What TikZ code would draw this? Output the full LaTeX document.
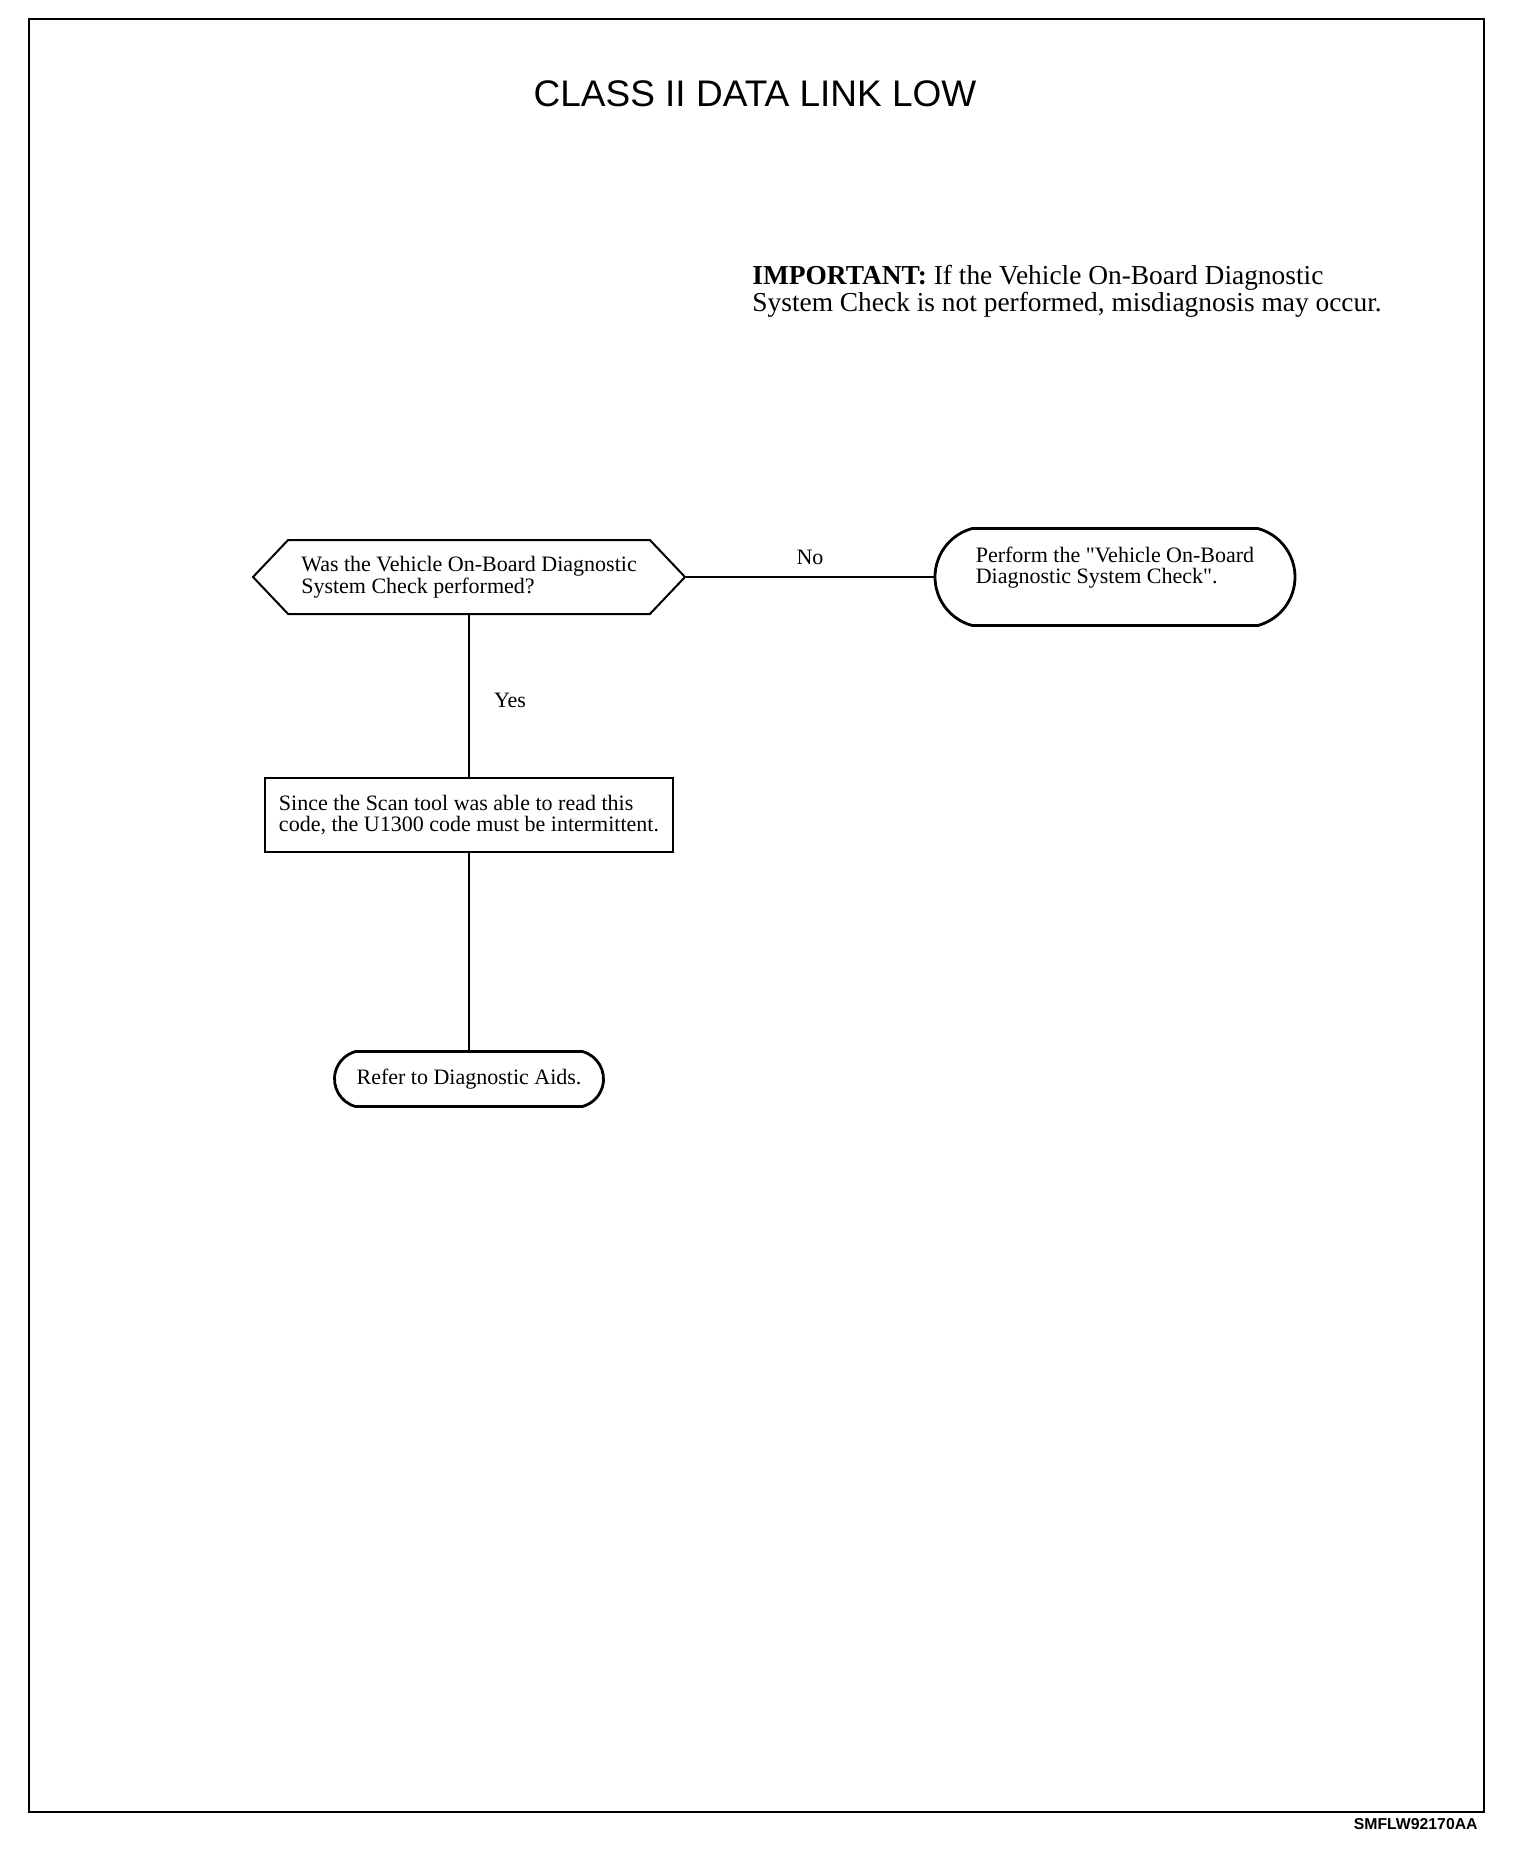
\documentclass[tikz,border=0pt]{standalone}
\usepackage{fontspec}
\setmainfont{Liberation Serif}
\newfontfamily\headfont{Liberation Sans}
\usetikzlibrary{shapes.symbols,shapes.misc}

\begin{document}
\begin{tikzpicture}[x=0.5pt,y=-0.5pt,
        % common styles
        question/.style={
            signal, signal to=west and east, signal pointer angle=93,
            draw, line width=1pt, inner sep=0pt,
            minimum width=216pt, minimum height=37pt,
            align=left, font=\fontsize{11}{10.9}\selectfont
        },
        action/.style={
            rectangle, draw, line width=1.4pt, inner sep=0pt,
            minimum width=204pt, minimum height=37pt,
            align=left, font=\fontsize{11}{10.9}\selectfont
        },
        terminal/.style={
            rounded rectangle, rounded rectangle arc length=150,
            draw, line width=1.4pt, inner sep=0pt,
            align=left, font=\fontsize{11}{10.9}\selectfont
        },
        answer/.style={inner sep=0pt, font=\fontsize{11}{10.9}\selectfont},
        link/.style={line width=1pt}
    ]
        % page and frame
        \useasboundingbox (0,0) rectangle (1536,1862);
        \draw[line width=1pt] (29,19) rectangle (1484,1812);

        % headings
        \node[font=\headfont\fontsize{18.5}{20}\selectfont, anchor=base, inner sep=0pt] (title) at (755,107) {CLASS II DATA LINK LOW};
        \node[anchor=north west, inner sep=0pt, align=left, font=\fontsize{13.7}{13.5}\selectfont] (note) at (752,265)
            {\textbf{IMPORTANT:} If the Vehicle On-Board Diagnostic\\System Check is not performed, misdiagnosis may occur.};

        % flow nodes
        \node[question] (check) at (469,577) {Was the Vehicle On-Board Diagnostic\\System Check performed?};
        \node[terminal, minimum width=180pt, minimum height=48.5pt, text depth=11.8pt] (perform) at (1115,577)
            {Perform the \textquotedbl Vehicle On-Board\\Diagnostic System Check\textquotedbl.};
        \node[action] (intermit) at (469,815) {Since the Scan tool was able to read this\\code, the U1300 code must be intermittent.};
        \node[terminal, minimum width=134.5pt, minimum height=27.5pt] (aids) at (469,1079) {Refer to Diagnostic Aids.};

        % links
        \draw[link] (check.east) -- (perform.west) node[answer, midway, above=5.5pt] {No};
        \draw[link] (check.south) -- (intermit.north) node[answer, pos=0.53, right=12pt] {Yes};
        \draw[link] (intermit.south) -- (aids.north);

        % figure code
        \node[font=\headfont\bfseries\fontsize{7.9}{9}\selectfont, anchor=base east, inner sep=0pt] (code) at (1478,1829) {SMFLW92170AA};
    \end{tikzpicture}
\end{document}
